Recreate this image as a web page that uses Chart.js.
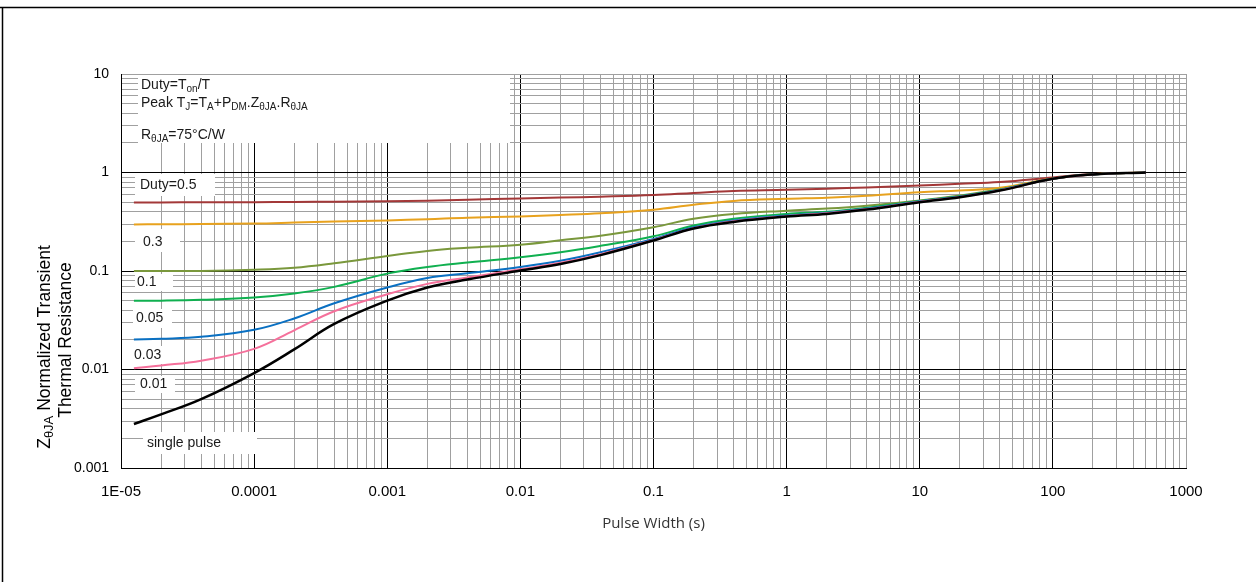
<!DOCTYPE html>
<html><head><meta charset="utf-8">
<script src="https://cdn.jsdelivr.net/npm/chart.js@4.4.1/dist/chart.umd.min.js"></script>
<style>html,body{margin:0;padding:0;background:#fff}canvas{display:block}</style>
</head><body>
<canvas id="c" width="1256" height="582"></canvas>
<script>
// ---- data ----
const pulseWidth = [1.25e-5, 2e-5, 4e-5, 1e-4, 2e-4, 4e-4, 1e-3, 2e-3, 4e-3, 1e-2, 2e-2, 4e-2, 1e-1, 2e-1, 4e-1, 1, 2, 4, 10, 20, 40, 100, 200, 500];
const singlePulse = [0.0028,0.0035,0.0050,0.0092,0.016,0.029,0.050,0.068,0.082,0.101,0.118,0.145,0.204,0.27,0.315,0.357,0.38,0.42,0.50,0.56,0.655,0.863,0.955,1.0];
const duty001 = [0.0103,0.0110,0.0123,0.0162,0.025,0.039,0.058,0.074,0.086,0.104,0.121,0.148,0.207,0.272,0.32,0.36,0.385,0.425,0.505,0.565,0.66,0.863,0.955,1.0];
const duty002 = [0.0202,0.0205,0.0215,0.0253,0.033,0.047,0.068,0.085,0.095,0.110,0.127,0.155,0.212,0.278,0.326,0.365,0.39,0.43,0.51,0.57,0.665,0.865,0.955,1.0];
const duty005 = [0.0498,0.050,0.051,0.0537,0.059,0.069,0.094,0.110,0.122,0.138,0.155,0.18,0.225,0.29,0.34,0.38,0.40,0.44,0.515,0.575,0.67,0.865,0.955,1.0];
const duty01 = [0.100,0.100,0.100,0.103,0.108,0.120,0.142,0.160,0.172,0.185,0.205,0.228,0.278,0.34,0.38,0.41,0.43,0.46,0.52,0.585,0.675,0.865,0.957,1.0];
const duty03 = [0.297,0.298,0.300,0.303,0.310,0.318,0.326,0.336,0.348,0.358,0.370,0.385,0.418,0.47,0.515,0.54,0.555,0.58,0.63,0.657,0.70,0.87,0.96,1.0];
const duty05 = [0.496,0.497,0.498,0.500,0.503,0.506,0.510,0.518,0.530,0.545,0.556,0.568,0.590,0.62,0.65,0.667,0.685,0.705,0.74,0.767,0.80,0.89,0.965,1.0];
const seriesNames = ['single pulse','0.01','0.02','0.05','0.1','0.3','0.5'];
const seriesColors = ['#000000','#f5709b','#0a70c2','#10b050','#7a983c','#e8a21e','#a33838'];
const xTickLabels = ['1E-05','0.0001','0.001','0.01','0.1','1','10','100','1000'];
const yTickLabels = ['0.001','0.01','0.1','1','10'];
const curveLabels = ['Duty=0.5','0.3','0.1','0.05','0.03','0.01','single pulse'];
const xTitle = 'Pulse Width (s)';

const seriesValues = [singlePulse, duty001, duty002, duty005, duty01, duty03, duty05];
const FONT = '"Liberation Sans", Arial, sans-serif';

function decadeIndex(v, minExp) {
  const e = Math.round(Math.log10(v));
  if (Math.abs(v / Math.pow(10, e) - 1) < 1e-6) return e - minExp;
  return -1;
}
function allTicks(minExp, maxExp) {
  const t = [];
  for (let e = minExp; e < maxExp; e++) for (let k = 1; k <= 9; k++) t.push({value: k * Math.pow(10, e)});
  t.push({value: Math.pow(10, maxExp)});
  return t;
}
function rich(ctx, x, y, parts, size, align) {
  const sub = Math.round(size * 0.72);
  let w = 0;
  parts.forEach(p => { ctx.font = (p[1] ? sub : size) + 'px ' + FONT; w += ctx.measureText(p[0]).width; });
  let cx = align === 'center' ? x - w / 2 : x;
  ctx.textAlign = 'left';
  ctx.textBaseline = 'middle';
  parts.forEach(p => {
    ctx.font = (p[1] ? sub : size) + 'px ' + FONT;
    ctx.fillText(p[0], cx, p[1] ? y + size * 0.28 : y);
    cx += ctx.measureText(p[0]).width;
  });
}

const decorations = {
  id: 'decorations',
  beforeDraw(chart) {
    const ctx = chart.ctx;
    ctx.save();
    ctx.fillStyle = '#fff';
    ctx.fillRect(0, 0, chart.width, chart.height);
    ctx.strokeStyle = '#000';
    ctx.lineWidth = 1.5;
    ctx.beginPath();
    ctx.moveTo(0, 7.5); ctx.lineTo(chart.width, 7.5);
    ctx.moveTo(2.5, 7); ctx.lineTo(2.5, chart.height);
    ctx.stroke();
    ctx.restore();
  },
  beforeDatasetsDraw(chart) {
    const ctx = chart.ctx;
    ctx.save();
    ctx.fillStyle = '#fff';
    const boxes = [[138,75,372,68],[135,174,80,22],[135,229,45,23],[135,274,38,17],[133,309,39,19],[132,346,34,18],[135,376,40,17],[143,432,114,22]];
    boxes.forEach(b => ctx.fillRect(b[0], b[1], b[2], b[3]));
    ctx.fillStyle = '#1a1a1a';
    rich(ctx, 141, 85, [['Duty=T',0],['on',1],['/T',0]], 14);
    rich(ctx, 141, 103, [['Peak T',0],['J',1],['=T',0],['A',1],['+P',0],['DM',1],['.Z',0],['\u03b8JA',1],['.R',0],['\u03b8JA',1]], 14);
    rich(ctx, 141, 135, [['R',0],['\u03b8JA',1],['=75\u00b0C/W',0]], 14);
    const pos = [[140,185,14],[143,242,14],[137,282,14],[136,318,14],[134,355,14],[140,384,14],[147,443,14]];
    curveLabels.forEach((t, i) => rich(ctx, pos[i][0], pos[i][1], [[t,0]], pos[i][2]));
    ctx.restore();
  },
  afterDraw(chart) {
    const ctx = chart.ctx;
    ctx.save();
    ctx.fillStyle = '#000';
    ctx.translate(45, 347);
    ctx.rotate(-Math.PI / 2);
    rich(ctx, 0, 0, [['Z',0],['\u03b8JA',1],[' Normalized Transient',0]], 17.5, 'center');
    ctx.restore();
    ctx.save();
    ctx.fillStyle = '#000';
    ctx.translate(66, 340);
    ctx.rotate(-Math.PI / 2);
    rich(ctx, 0, 0, [['Thermal Resistance',0]], 17.5, 'center');
    ctx.restore();
  }
};

const datasets = seriesNames.map((n, i) => ({
  label: n,
  data: pulseWidth.map((t, j) => ({x: t, y: seriesValues[i][j]})),
  borderColor: seriesColors[i],
  borderWidth: i === 0 ? 2.5 : 2,
  pointRadius: 0,
  fill: false,
  tension: 0.4,
  order: i
}));

new Chart(document.getElementById('c'), {
  type: 'line',
  data: {datasets},
  options: {
    responsive: false,
    animation: false,
    layout: {padding: {top: 74, right: 70, left: 0, bottom: 0}},
    plugins: {legend: {display: false}, tooltip: {enabled: false}},
    scales: {
      x: {
        type: 'logarithmic', min: 1e-5, max: 1000, position: 'bottom',
        afterBuildTicks: s => { s.ticks = allTicks(-5, 3); },
        afterFit: s => { s.height = 114; },
        border: {display: true, color: '#000', width: 1},
        grid: {
          drawTicks: false,
          color: c => { const v = c.tick ? c.tick.value : 0; return (decadeIndex(v, -5) >= 0 && v < 999) ? '#000' : '#a0a0a0'; },
          lineWidth: 1
        },
        ticks: {
          autoSkip: false, maxRotation: 0, padding: 15, color: '#000',
          font: {family: FONT, size: 15},
          callback: v => { const i = decadeIndex(v, -5); return i >= 0 ? xTickLabels[i] : ''; }
        },
        title: {display: true, text: xTitle, color: '#333', font: {family: '"Open Sans", sans-serif', size: 15}, padding: {top: 0, bottom: 49}}
      },
      y: {
        type: 'logarithmic', min: 0.001, max: 10,
        afterBuildTicks: s => { s.ticks = allTicks(-3, 1); },
        afterFit: s => { s.width = 121; },
        border: {display: true, color: '#000', width: 1},
        grid: {
          drawTicks: false,
          color: c => { const v = c.tick ? c.tick.value : 0; return (decadeIndex(v, -3) >= 0 && v < 9.9) ? '#000' : '#a0a0a0'; },
          lineWidth: 1
        },
        ticks: {
          autoSkip: false, padding: 12, color: '#000',
          font: {family: FONT, size: 14},
          callback: v => { const i = decadeIndex(v, -3); return i >= 0 ? yTickLabels[i] : ''; }
        }
      }
    }
  },
  plugins: [decorations]
});
</script>
</body></html>
